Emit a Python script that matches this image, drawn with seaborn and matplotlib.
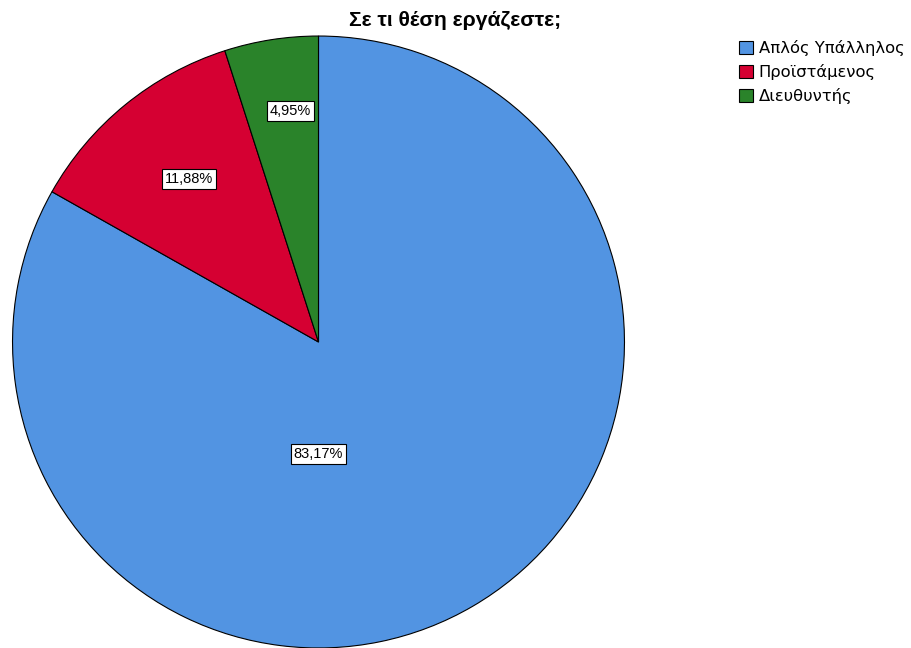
import numpy as np
import seaborn as sns
import matplotlib.pyplot as plt
from matplotlib.patches import Patch

categories = ['Απλός Υπάλληλος', 'Προϊστάμενος', 'Διευθυντής']
percents = [83.17, 11.88, 4.95]
colors = ['#5294e2', '#d50032', '#2a832a']
# label placement (angle in deg, distance as fraction of radius), roughly like the original
label_angle = [-90, 128.4, 96.9]
label_dist = [0.365, 0.68, 0.76]

sns.set_style('white')
plt.rcParams['font.family'] = ['DejaVu Sans']
plt.rcParams['text.color'] = 'black'

fig = plt.figure(figsize=(9.11, 6.48), dpi=100)
ax = fig.add_axes([11/911, -1.5/648, 615/911, 615/648])

wedges, _ = ax.pie(percents, colors=colors, startangle=90, counterclock=False,
                   radius=1.0, wedgeprops=dict(edgecolor='black', linewidth=0.8))
ax.set_xlim(-1.005, 1.005)
ax.set_ylim(-1.005, 1.005)
ax.set_aspect('equal')
ax.axis('off')

for p, a, d in zip(percents, label_angle, label_dist):
    t = np.deg2rad(a)
    txt = ('%.2f%%' % p).replace('.', ',')
    ax.text(d*np.cos(t), d*np.sin(t), txt, ha='center', va='center',
            fontsize=10.5, family=['Liberation Sans Narrow', 'Liberation Sans'],
            bbox=dict(boxstyle='square,pad=0.2', facecolor='white', edgecolor='black', linewidth=0.8))

fig.text(455/911, 1 - 20/648, 'Σε τι θέση εργάζεστε;', ha='center', va='center',
         fontsize=15.2, fontweight='bold', family='Liberation Sans')

handles = [Patch(facecolor=c, edgecolor='black', linewidth=0.8) for c in colors]
fig.legend(handles, categories, loc='upper left', bbox_to_anchor=(739/911, 1 - 40/648),
           frameon=False, fontsize=11.8, handlelength=0.85, handleheight=0.85,
           handletextpad=0.35, labelspacing=0.5, borderpad=0, borderaxespad=0)

fig.savefig('out.png', dpi=100)
